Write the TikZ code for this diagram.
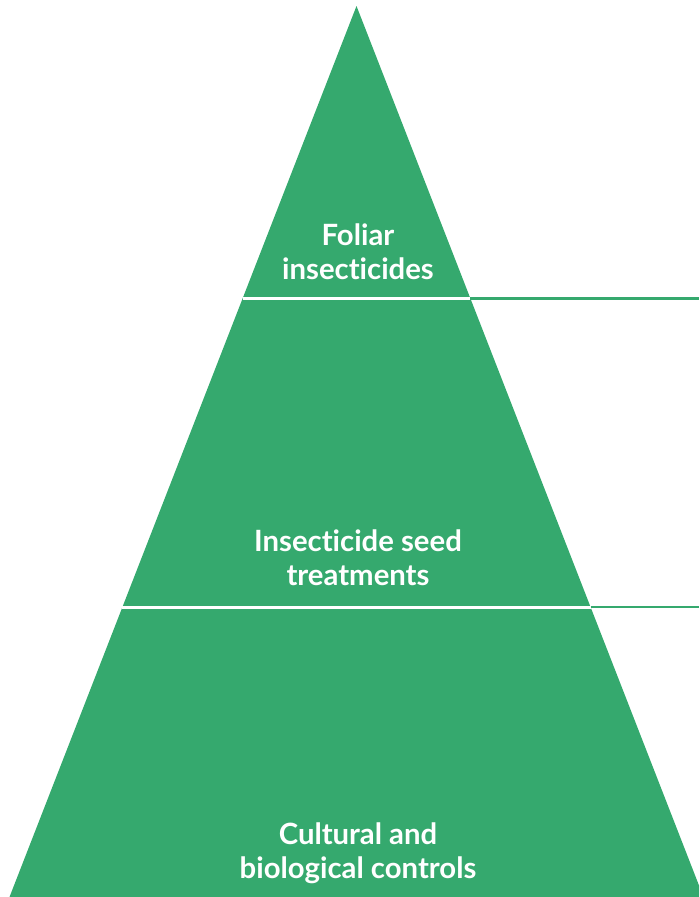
\documentclass[tikz,border=0pt]{standalone}
\usepackage{fontspec}
\setmainfont[Ligatures={NoCommon}]{Lato}
\definecolor{pgreen}{RGB}{53,169,110}
\begin{document}
\begin{tikzpicture}[x=1pt,y=-1pt,
  lbl/.style={text=white,font=\fontsize{29.3}{34}\selectfont\bfseries,align=center,inner sep=0pt},
  sep/.style={white,line width=3pt},
  lead/.style={pgreen,line width=2.5pt}]
\useasboundingbox (0,0) rectangle (699,897);
\clip (0,0) rectangle (699,897);
\coordinate (apex) at (356.5,6);
\coordinate (bl) at (9.5,897);
\coordinate (br) at (703.5,897);
\fill[pgreen] (apex) -- (bl) -- (br) -- cycle;
\coordinate (s1l) at (242.6,298.5);
\coordinate (s1r) at (470.4,298.5);
\coordinate (e1) at (699,298.5);
\coordinate (s2l) at (122.4,607);
\coordinate (s2r) at (590.6,607);
\coordinate (e2) at (699,607);
\draw[sep] (s1l) -- (s1r);
\draw[sep] (s2l) -- (s2r);
\draw[lead] (s1r) -- (e1);
\draw[lead] (s2r) -- (e2);
\node[lbl] (t1) at (358,252) {Foliar\\insecticides};
\node[lbl] (t2) at (358,558) {Insecticide seed\\treatments};
\node[lbl] (t3) at (358,853) {Cultural and\\biological controls};
\end{tikzpicture}
\end{document}
